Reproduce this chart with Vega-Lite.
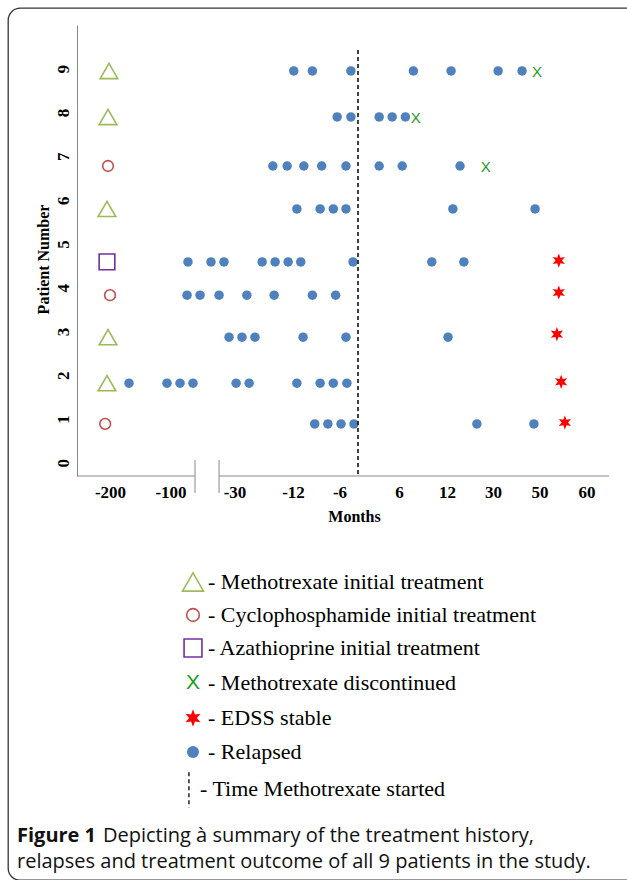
{
  "$schema": "https://vega.github.io/schema/vega-lite/v6.json",
  "width": 630,
  "height": 872,
  "autosize": "none",
  "padding": {"left": 8, "top": 8, "right": 0, "bottom": 0},
  "background": "white",
  "config": {
    "view": {"stroke": "#333333", "strokeWidth": 1.3, "cornerRadius": 12, "fill": "white"},
    "legend": {"disable": true}
  },
  "resolve": {"scale": {"x": "independent", "y": "independent"}},
  "layer": [
    {
      "data": {"values": [
        {"patient": 1, "y": 0.89, "month": -208, "kind": "Cyclophosphamide initial treatment"},
        {"patient": 1, "y": 0.89, "month": -9.2, "kind": "Relapsed"},
        {"patient": 1, "y": 0.89, "month": -7.5, "kind": "Relapsed"},
        {"patient": 1, "y": 0.89, "month": -5.5, "kind": "Relapsed"},
        {"patient": 1, "y": 0.89, "month": -1.3, "kind": "Relapsed"},
        {"patient": 1, "y": 0.89, "month": 23.7, "kind": "Relapsed"},
        {"patient": 1, "y": 0.89, "month": 47.6, "kind": "Relapsed"},
        {"patient": 1, "y": 0.92, "month": 55.4, "kind": "EDSS stable"},
        {"patient": 2, "y": 1.82, "month": -205, "kind": "Methotrexate initial treatment"},
        {"patient": 2, "y": 1.82, "month": -168.6, "kind": "Relapsed"},
        {"patient": 2, "y": 1.82, "month": -105.8, "kind": "Relapsed"},
        {"patient": 2, "y": 1.82, "month": -89.6, "kind": "Relapsed"},
        {"patient": 2, "y": 1.82, "month": -75.4, "kind": "Relapsed"},
        {"patient": 2, "y": 1.82, "month": -29.5, "kind": "Relapsed"},
        {"patient": 2, "y": 1.82, "month": -25.5, "kind": "Relapsed"},
        {"patient": 2, "y": 1.82, "month": -11.5, "kind": "Relapsed"},
        {"patient": 2, "y": 1.82, "month": -8.5, "kind": "Relapsed"},
        {"patient": 2, "y": 1.82, "month": -6.8, "kind": "Relapsed"},
        {"patient": 2, "y": 1.82, "month": -3.6, "kind": "Relapsed"},
        {"patient": 2, "y": 1.85, "month": 54.6, "kind": "EDSS stable"},
        {"patient": 3, "y": 2.87, "month": -203.3, "kind": "Methotrexate initial treatment"},
        {"patient": 3, "y": 2.87, "month": -36.0, "kind": "Relapsed"},
        {"patient": 3, "y": 2.87, "month": -27.7, "kind": "Relapsed"},
        {"patient": 3, "y": 2.87, "month": -23.7, "kind": "Relapsed"},
        {"patient": 3, "y": 2.87, "month": -10.7, "kind": "Relapsed"},
        {"patient": 3, "y": 2.87, "month": -3.9, "kind": "Relapsed"},
        {"patient": 3, "y": 2.87, "month": 12.4, "kind": "Relapsed"},
        {"patient": 3, "y": 2.94, "month": 53.7, "kind": "EDSS stable"},
        {"patient": 4, "y": 3.83, "month": -200, "kind": "Cyclophosphamide initial treatment"},
        {"patient": 4, "y": 3.83, "month": -81.9, "kind": "Relapsed"},
        {"patient": 4, "y": 3.83, "month": -67.7, "kind": "Relapsed"},
        {"patient": 4, "y": 3.83, "month": -46.9, "kind": "Relapsed"},
        {"patient": 4, "y": 3.83, "month": -26.2, "kind": "Relapsed"},
        {"patient": 4, "y": 3.83, "month": -17.8, "kind": "Relapsed"},
        {"patient": 4, "y": 3.83, "month": -9.5, "kind": "Relapsed"},
        {"patient": 4, "y": 3.83, "month": -6.5, "kind": "Relapsed"},
        {"patient": 4, "y": 3.89, "month": 54.1, "kind": "EDSS stable"},
        {"patient": 5, "y": 4.59, "month": -205, "kind": "Azathioprine initial treatment"},
        {"patient": 5, "y": 4.59, "month": -80.9, "kind": "Relapsed"},
        {"patient": 5, "y": 4.59, "month": -55.7, "kind": "Relapsed"},
        {"patient": 5, "y": 4.59, "month": -41.5, "kind": "Relapsed"},
        {"patient": 5, "y": 4.59, "month": -21.5, "kind": "Relapsed"},
        {"patient": 5, "y": 4.59, "month": -17.5, "kind": "Relapsed"},
        {"patient": 5, "y": 4.59, "month": -13.5, "kind": "Relapsed"},
        {"patient": 5, "y": 4.59, "month": -11.0, "kind": "Relapsed"},
        {"patient": 5, "y": 4.59, "month": -1.6, "kind": "Relapsed"},
        {"patient": 5, "y": 4.59, "month": 10.1, "kind": "Relapsed"},
        {"patient": 5, "y": 4.59, "month": 18.6, "kind": "Relapsed"},
        {"patient": 5, "y": 4.62, "month": 54.1, "kind": "EDSS stable"},
        {"patient": 6, "y": 5.80, "month": -205, "kind": "Methotrexate initial treatment"},
        {"patient": 6, "y": 5.80, "month": -11.5, "kind": "Relapsed"},
        {"patient": 6, "y": 5.80, "month": -8.5, "kind": "Relapsed"},
        {"patient": 6, "y": 5.80, "month": -6.8, "kind": "Relapsed"},
        {"patient": 6, "y": 5.80, "month": -3.9, "kind": "Relapsed"},
        {"patient": 6, "y": 5.80, "month": 14.3, "kind": "Relapsed"},
        {"patient": 6, "y": 5.80, "month": 48.1, "kind": "Relapsed"},
        {"patient": 7, "y": 6.78, "month": -203.3, "kind": "Cyclophosphamide initial treatment"},
        {"patient": 7, "y": 6.78, "month": -18.2, "kind": "Relapsed"},
        {"patient": 7, "y": 6.78, "month": -13.8, "kind": "Relapsed"},
        {"patient": 7, "y": 6.78, "month": -10.6, "kind": "Relapsed"},
        {"patient": 7, "y": 6.78, "month": -8.3, "kind": "Relapsed"},
        {"patient": 7, "y": 6.78, "month": -3.9, "kind": "Relapsed"},
        {"patient": 7, "y": 6.78, "month": 3.1, "kind": "Relapsed"},
        {"patient": 7, "y": 6.78, "month": 6.4, "kind": "Relapsed"},
        {"patient": 7, "y": 6.78, "month": 17.1, "kind": "Relapsed"},
        {"patient": 7, "y": 6.76, "month": 27.2, "kind": "Methotrexate discontinued"},
        {"patient": 8, "y": 7.90, "month": -203.3, "kind": "Methotrexate initial treatment"},
        {"patient": 8, "y": 7.90, "month": -6.3, "kind": "Relapsed"},
        {"patient": 8, "y": 7.90, "month": -2.3, "kind": "Relapsed"},
        {"patient": 8, "y": 7.90, "month": 3.1, "kind": "Relapsed"},
        {"patient": 8, "y": 7.90, "month": 5.0, "kind": "Relapsed"},
        {"patient": 8, "y": 7.90, "month": 6.8, "kind": "Relapsed"},
        {"patient": 8, "y": 7.88, "month": 8.1, "kind": "Methotrexate discontinued"},
        {"patient": 9, "y": 8.95, "month": -201.7, "kind": "Methotrexate initial treatment"},
        {"patient": 9, "y": 8.95, "month": -11.9, "kind": "Relapsed"},
        {"patient": 9, "y": 8.95, "month": -9.5, "kind": "Relapsed"},
        {"patient": 9, "y": 8.95, "month": -2.3, "kind": "Relapsed"},
        {"patient": 9, "y": 8.95, "month": 7.8, "kind": "Relapsed"},
        {"patient": 9, "y": 8.95, "month": 13.6, "kind": "Relapsed"},
        {"patient": 9, "y": 8.95, "month": 32.2, "kind": "Relapsed"},
        {"patient": 9, "y": 8.95, "month": 42.5, "kind": "Relapsed"},
        {"patient": 9, "y": 8.93, "month": 48.9, "kind": "Methotrexate discontinued"}
      ]},
      "layer": [
        {
          "transform": [{"filter": "datum.kind == 'Methotrexate initial treatment'"}],
          "mark": {"type": "point", "filled": false, "strokeWidth": 1.6, "opacity": 1, "size": 310},
          "encoding": {
            "x": {
              "field": "month", "type": "quantitative",
              "scale": {"domain": [-200, -100, -30, -12, -6, 0, 6, 12, 30, 50, 60], "range": [102, 162.5, 226.5, 285, 331.5, 350, 391, 439, 485, 531.5, 578.5], "nice": false, "zero": false},
              "axis": {
                "values": [-200, -100, -30, -12, -6, 6, 12, 30, 50, 60],
                "labelExpr": "'' + datum.value",
                "domain": false, "ticks": false, "grid": false,
                "labelFont": "Liberation Serif", "labelFontWeight": "bold", "labelFontSize": 17, "labelColor": "black",
                "labelPadding": 8, "labelFlush": false, "labelOverlap": false,
                "offset": -404,
                "title": "Months", "titleFont": "Liberation Serif", "titleFontWeight": "bold", "titleFontSize": 16, "titleColor": "black", "titlePadding": 8, "titleX": 346
              }
            },
            "y": {
              "field": "y", "type": "quantitative",
              "scale": {"domain": [-0.3, 10], "range": [468, 17], "nice": false, "zero": false},
              "axis": {
                "values": [0, 1, 2, 3, 4, 5, 6, 7, 8, 9],
                "labelExpr": "'' + datum.value",
                "domainColor": "#888888", "domainWidth": 1, "ticks": false, "grid": false,
                "labelAngle": -90, "labelAlign": "center", "labelBaseline": "bottom", "labelPadding": 5,
                "labelFont": "Liberation Serif", "labelFontWeight": "bold", "labelFontSize": 17, "labelColor": "black",
                "offset": -69,
                "title": "Patient Number", "titleFont": "Liberation Serif", "titleFontWeight": "bold", "titleFontSize": 16, "titleColor": "black", "titlePadding": 3, "titleY": 251
              }
            },
            "shape": {"field": "kind", "type": "nominal", "scale": {"domain": ["Methotrexate initial treatment", "Cyclophosphamide initial treatment", "Azathioprine initial treatment", "EDSS stable", "Relapsed"], "range": ["triangle-up", "circle", "square", "M0,-1L0.225,-0.39L0.866,-0.5L0.45,0L0.866,0.5L0.225,0.39L0,1L-0.225,0.39L-0.866,0.5L-0.45,0L-0.866,-0.5L-0.225,-0.39Z", "circle"]}},
            "color": {"field": "kind", "type": "nominal", "scale": {"domain": ["Methotrexate initial treatment", "Cyclophosphamide initial treatment", "Azathioprine initial treatment", "EDSS stable", "Relapsed"], "range": ["#9BBB59", "#C0504D", "#7030A0", "#FF0000", "#4F81BD"]}}
          }
        },
        {
          "transform": [{"filter": "datum.kind == 'Cyclophosphamide initial treatment'"}],
          "mark": {"type": "point", "filled": false, "strokeWidth": 1.6, "opacity": 1, "size": 115},
          "encoding": {
            "x": {"field": "month", "type": "quantitative"},
            "y": {"field": "y", "type": "quantitative"},
            "shape": {"field": "kind", "type": "nominal"},
            "color": {"field": "kind", "type": "nominal"}
          }
        },
        {
          "transform": [{"filter": "datum.kind == 'Azathioprine initial treatment'"}],
          "mark": {"type": "point", "filled": false, "strokeWidth": 1.6, "opacity": 1, "size": 246},
          "encoding": {
            "x": {"field": "month", "type": "quantitative"},
            "y": {"field": "y", "type": "quantitative"},
            "shape": {"field": "kind", "type": "nominal"},
            "color": {"field": "kind", "type": "nominal"}
          }
        },
        {
          "transform": [{"filter": "datum.kind == 'Relapsed'"}],
          "mark": {"type": "point", "filled": true, "opacity": 1, "strokeWidth": 0, "size": 90},
          "encoding": {
            "x": {"field": "month", "type": "quantitative"},
            "y": {"field": "y", "type": "quantitative"},
            "shape": {"field": "kind", "type": "nominal"},
            "color": {"field": "kind", "type": "nominal"}
          }
        },
        {
          "transform": [{"filter": "datum.kind == 'EDSS stable'"}],
          "mark": {"type": "point", "filled": true, "opacity": 1, "strokeWidth": 0, "size": 200},
          "encoding": {
            "x": {"field": "month", "type": "quantitative"},
            "y": {"field": "y", "type": "quantitative"},
            "shape": {"field": "kind", "type": "nominal"},
            "color": {"field": "kind", "type": "nominal"}
          }
        },
        {
          "transform": [{"filter": "datum.kind == 'Methotrexate discontinued'"}],
          "mark": {"type": "text", "text": "X", "font": "Liberation Sans", "fontSize": 15, "fill": "#1E9B1E", "align": "center", "baseline": "middle"},
          "encoding": {
            "x": {"field": "month", "type": "quantitative"},
            "y": {"field": "y", "type": "quantitative"}
          }
        },
        {
          "data": {"values": [{}]},
          "mark": {"type": "rule", "stroke": "#888888", "strokeWidth": 1},
          "encoding": {
            "x": {"datum": -254.5, "type": "quantitative"},
            "x2": {"datum": -73.2},
            "y": {"datum": -0.3, "type": "quantitative"}
          }
        },
        {
          "data": {"values": [{}]},
          "mark": {"type": "rule", "stroke": "#888888", "strokeWidth": 1},
          "encoding": {
            "x": {"datum": -46.9, "type": "quantitative"},
            "x2": {"datum": 64.8},
            "y": {"datum": -0.3, "type": "quantitative"}
          }
        },
        {
          "data": {"values": [{}]},
          "mark": {"type": "rule", "stroke": "#888888", "strokeWidth": 1},
          "encoding": {
            "x": {"datum": -73.2, "type": "quantitative"},
            "y": {"datum": 0.065, "type": "quantitative"},
            "y2": {"datum": -0.69}
          }
        },
        {
          "data": {"values": [{}]},
          "mark": {"type": "rule", "stroke": "#888888", "strokeWidth": 1},
          "encoding": {
            "x": {"datum": -46.9, "type": "quantitative"},
            "y": {"datum": 0.065, "type": "quantitative"},
            "y2": {"datum": -0.69}
          }
        },
        {
          "data": {"values": [{}]},
          "mark": {"type": "rule", "stroke": "#111111", "strokeWidth": 1.6, "strokeDash": [4, 3]},
          "encoding": {
            "x": {"datum": 0, "type": "quantitative"},
            "y": {"datum": 9.43, "type": "quantitative"},
            "y2": {"datum": -0.3}
          }
        }
      ]
    },
    {
      "data": {"values": [
        {"order": 1, "kind": "Methotrexate initial treatment", "label": "- Methotrexate initial treatment"},
        {"order": 2, "kind": "Cyclophosphamide initial treatment", "label": "- Cyclophosphamide initial treatment"},
        {"order": 3, "kind": "Azathioprine initial treatment", "label": "- Azathioprine initial treatment"},
        {"order": 4, "kind": "Methotrexate discontinued", "label": "- Methotrexate discontinued"},
        {"order": 5, "kind": "EDSS stable", "label": "- EDSS stable"},
        {"order": 6, "kind": "Relapsed", "label": "- Relapsed"},
        {"order": 7, "kind": "Time Methotrexate started", "label": "- Time Methotrexate started"}
      ]},
      "layer": [
        {
          "transform": [{"filter": "datum.order == 1"}],
          "mark": {"type": "point", "filled": false, "strokeWidth": 1.6, "opacity": 1, "size": 440},
          "encoding": {
            "x": {"datum": 1, "type": "quantitative", "scale": {"domain": [0, 1], "range": [0, 185], "nice": false, "zero": false}, "axis": null},
            "y": {"field": "order", "type": "quantitative", "scale": {"domain": [1, 2, 3, 4, 5, 6, 7], "range": [574, 607, 640, 675, 710, 744, 781], "nice": false, "zero": false}, "axis": null},
            "shape": {"field": "kind", "type": "nominal"},
            "color": {"field": "kind", "type": "nominal"}
          }
        },
        {
          "transform": [{"filter": "datum.order == 2"}],
          "mark": {"type": "point", "filled": false, "strokeWidth": 1.6, "opacity": 1, "size": 160},
          "encoding": {
            "x": {"datum": 1, "type": "quantitative"},
            "y": {"field": "order", "type": "quantitative"},
            "shape": {"field": "kind", "type": "nominal"},
            "color": {"field": "kind", "type": "nominal"}
          }
        },
        {
          "transform": [{"filter": "datum.order == 3"}],
          "mark": {"type": "point", "filled": false, "strokeWidth": 1.6, "opacity": 1, "size": 320},
          "encoding": {
            "x": {"datum": 1, "type": "quantitative"},
            "y": {"field": "order", "type": "quantitative"},
            "shape": {"field": "kind", "type": "nominal"},
            "color": {"field": "kind", "type": "nominal"}
          }
        },
        {
          "transform": [{"filter": "datum.order == 5"}],
          "mark": {"type": "point", "filled": true, "opacity": 1, "strokeWidth": 0, "size": 300},
          "encoding": {
            "x": {"datum": 1, "type": "quantitative"},
            "y": {"field": "order", "type": "quantitative"},
            "shape": {"field": "kind", "type": "nominal"},
            "color": {"field": "kind", "type": "nominal"}
          }
        },
        {
          "transform": [{"filter": "datum.order == 6"}],
          "mark": {"type": "point", "filled": true, "opacity": 1, "strokeWidth": 0, "size": 144},
          "encoding": {
            "x": {"datum": 1, "type": "quantitative"},
            "y": {"field": "order", "type": "quantitative"},
            "shape": {"field": "kind", "type": "nominal"},
            "color": {"field": "kind", "type": "nominal"}
          }
        },
        {
          "transform": [{"filter": "datum.order == 4"}],
          "mark": {"type": "text", "text": "X", "font": "Liberation Sans", "fontSize": 21, "fill": "#1E9B1E", "align": "center", "baseline": "middle"},
          "encoding": {
            "x": {"datum": 1, "type": "quantitative"},
            "y": {"field": "order", "type": "quantitative"}
          }
        },
        {
          "transform": [{"filter": "datum.order == 7"}],
          "mark": {"type": "rule", "stroke": "#111111", "strokeWidth": 1.4, "strokeDash": [4, 3]},
          "encoding": {
            "x": {"datum": 0.978, "type": "quantitative"},
            "y": {"datum": 6.55, "type": "quantitative"},
            "y2": {"datum": 7.5}
          }
        },
        {
          "transform": [{"filter": "datum.order <= 6"}],
          "mark": {"type": "text", "align": "left", "baseline": "middle", "dx": 15, "font": "Liberation Serif", "fontSize": 22, "fill": "black"},
          "encoding": {
            "x": {"datum": 1, "type": "quantitative"},
            "y": {"field": "order", "type": "quantitative"},
            "text": {"field": "label"}
          }
        },
        {
          "transform": [{"filter": "datum.order == 7"}],
          "mark": {"type": "text", "align": "left", "baseline": "middle", "dx": 7, "font": "Liberation Serif", "fontSize": 22, "fill": "black"},
          "encoding": {
            "x": {"datum": 1, "type": "quantitative"},
            "y": {"field": "order", "type": "quantitative"},
            "text": {"field": "label"}
          }
        }
      ]
    },
    {
      "data": {"values": [
        {"line": 1, "col": 0, "bold": true, "text": "Figure 1"},
        {"line": 1, "col": 1, "bold": false, "text": "Depicting à summary of the treatment history,"},
        {"line": 2, "col": 0, "bold": false, "text": "relapses and treatment outcome of all 9 patients in the study."}
      ]},
      "layer": [
        {
          "transform": [{"filter": "datum.bold"}],
          "mark": {"type": "text", "align": "left", "baseline": "middle", "font": "Open Sans", "fontSize": 20, "fontWeight": "bold", "fill": "#111111"},
          "encoding": {
            "x": {"field": "col", "type": "quantitative", "scale": {"domain": [0, 1], "range": [9, 95], "nice": false, "zero": false}, "axis": null},
            "y": {"field": "line", "type": "quantitative", "scale": {"domain": [1, 2], "range": [828, 854], "nice": false, "zero": false}, "axis": null},
            "text": {"field": "text"}
          }
        },
        {
          "transform": [{"filter": "!datum.bold"}],
          "mark": {"type": "text", "align": "left", "baseline": "middle", "font": "Open Sans", "fontSize": 20, "fill": "#111111"},
          "encoding": {
            "x": {"field": "col", "type": "quantitative"},
            "y": {"field": "line", "type": "quantitative"},
            "text": {"field": "text"}
          }
        }
      ]
    }
  ]
}
